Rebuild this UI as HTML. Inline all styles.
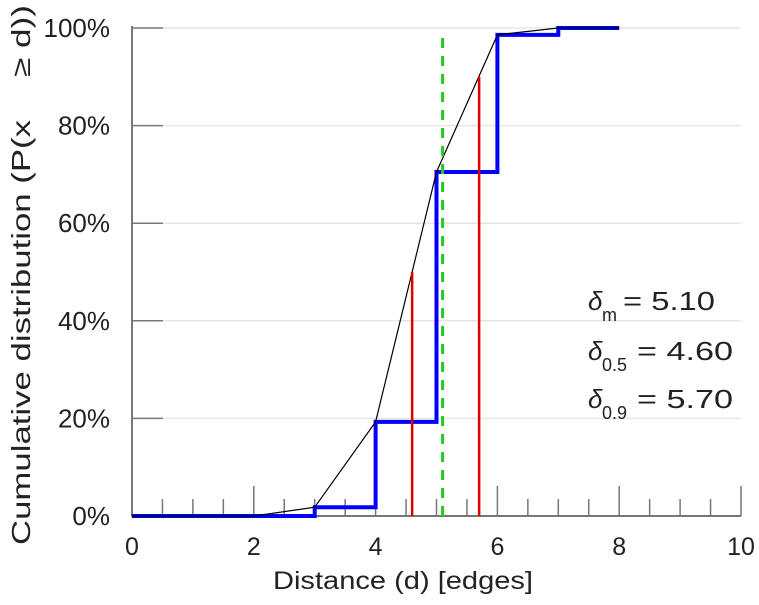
<!DOCTYPE html>
<html><head><meta charset="utf-8"><style>
body{margin:0;background:#fff;}
svg text{font-family:"Liberation Sans",sans-serif;fill:#222;}
</style></head><body>
<svg width="759" height="600">
<g id="grid"></g>
<g id="axes"></g>
<g id="marks"></g>
<text x="273" y="589" font-size="25" textLength="260" lengthAdjust="spacingAndGlyphs">Distance (d) [edges]</text>
<g>
<text transform="translate(30,545) rotate(-90)" font-size="26" textLength="425" lengthAdjust="spacingAndGlyphs">Cumulative distribution (P(x</text>
<text transform="translate(30,5) rotate(-90)" font-size="26" text-anchor="end" textLength="72" lengthAdjust="spacingAndGlyphs">≥ d))</text>
</g>
<g font-size="26">
<text x="588" y="310" font-style="italic">δ</text><text x="602" y="321" font-size="18">m</text><text x="623" y="310" textLength="92" lengthAdjust="spacingAndGlyphs">= 5.10</text>
<text x="588" y="360" font-style="italic">δ</text><text x="602" y="371" font-size="18">0.5</text><text x="637" y="360" textLength="96" lengthAdjust="spacingAndGlyphs">= 4.60</text>
<text x="588" y="408" font-style="italic">δ</text><text x="602" y="419" font-size="18">0.9</text><text x="637" y="408" textLength="96" lengthAdjust="spacingAndGlyphs">= 5.70</text>
</g>
</svg>
<script>
const distances=[0,1,2,3,4,5,6,7,8];
const cdfValues=[0,0,0,1.8,19.3,70.5,98.6,100,100];
const xTicks=[0,2,4,6,8,10];
const yTicks=[0,20,40,60,80,100];
const deltaM=5.1, delta05=4.6, delta09=5.7;
const X=v=>132+v*60.9, Y=v=>516-v*4.88;
const NS="http://www.w3.org/2000/svg";
function mk(p,tag,a){const e=document.createElementNS(NS,tag);for(const k in a)e.setAttribute(k,a[k]);document.getElementById(p).appendChild(e);return e;}
yTicks.forEach(t=>{
  if(t>0){const g=mk('grid','line',{x1:163,x2:741,y1:Y(t),y2:Y(t),stroke:'#e6e6e6','stroke-width':1.5});
  
  }
  const tk=mk('axes','line',{x1:132,x2:163,y1:Y(t),y2:Y(t),stroke:'#777','stroke-width':1.5});
  
  
  const l=mk('axes','text',{x:110,y:Y(t)+9,'font-size':26,'text-anchor':'end'});l.textContent=t+'%';
  
  
});
for(let v=0.5;v<10;v+=0.5){
  const major=v%2===0;
  const tk=mk('axes','line',{x1:X(v),x2:X(v),y1:major?486:499,y2:516,stroke:'#777','stroke-width':1.5});
  
  
}
xTicks.forEach(t=>{
  const l=mk('axes','text',{x:X(t),y:555,'font-size':25,'text-anchor':'middle'});l.textContent=t;
  
  
});
mk('axes','line',{x1:132,x2:132,y1:26,y2:517,stroke:'#777','stroke-width':2});
mk('axes','line',{x1:131,x2:741,y1:516,y2:516,stroke:'#777','stroke-width':2});
mk('axes','line',{x1:741,x2:741,y1:486,y2:516,stroke:'#777','stroke-width':1.5});
let d='M'+X(distances[0])+','+Y(cdfValues[0]);
for(let i=1;i<distances.length;i++){d+=' L'+X(distances[i])+','+Y(cdfValues[i-1])+' L'+X(distances[i])+','+Y(cdfValues[i]);}
const st=mk('marks','path',{d:d,fill:'none',stroke:'#0000ff','stroke-width':4});


const pl=mk('marks','polyline',{points:distances.map((v,i)=>X(v)+','+Y(cdfValues[i])).join(' '),fill:'none',stroke:'#000','stroke-width':1.2});


const r1=mk('marks','line',{x1:X(delta05),x2:X(delta05),y1:516,y2:Y(50),stroke:'#dd0000','stroke-width':2.5});


const r2=mk('marks','line',{x1:X(delta09),x2:X(delta09),y1:516,y2:Y(90),stroke:'#dd0000','stroke-width':2.5});


const gm=mk('marks','line',{x1:X(deltaM),x2:X(deltaM),y1:516,y2:30,stroke:'#22cc22','stroke-width':3,'stroke-dasharray':'10,8'});


</script>
</body></html>
